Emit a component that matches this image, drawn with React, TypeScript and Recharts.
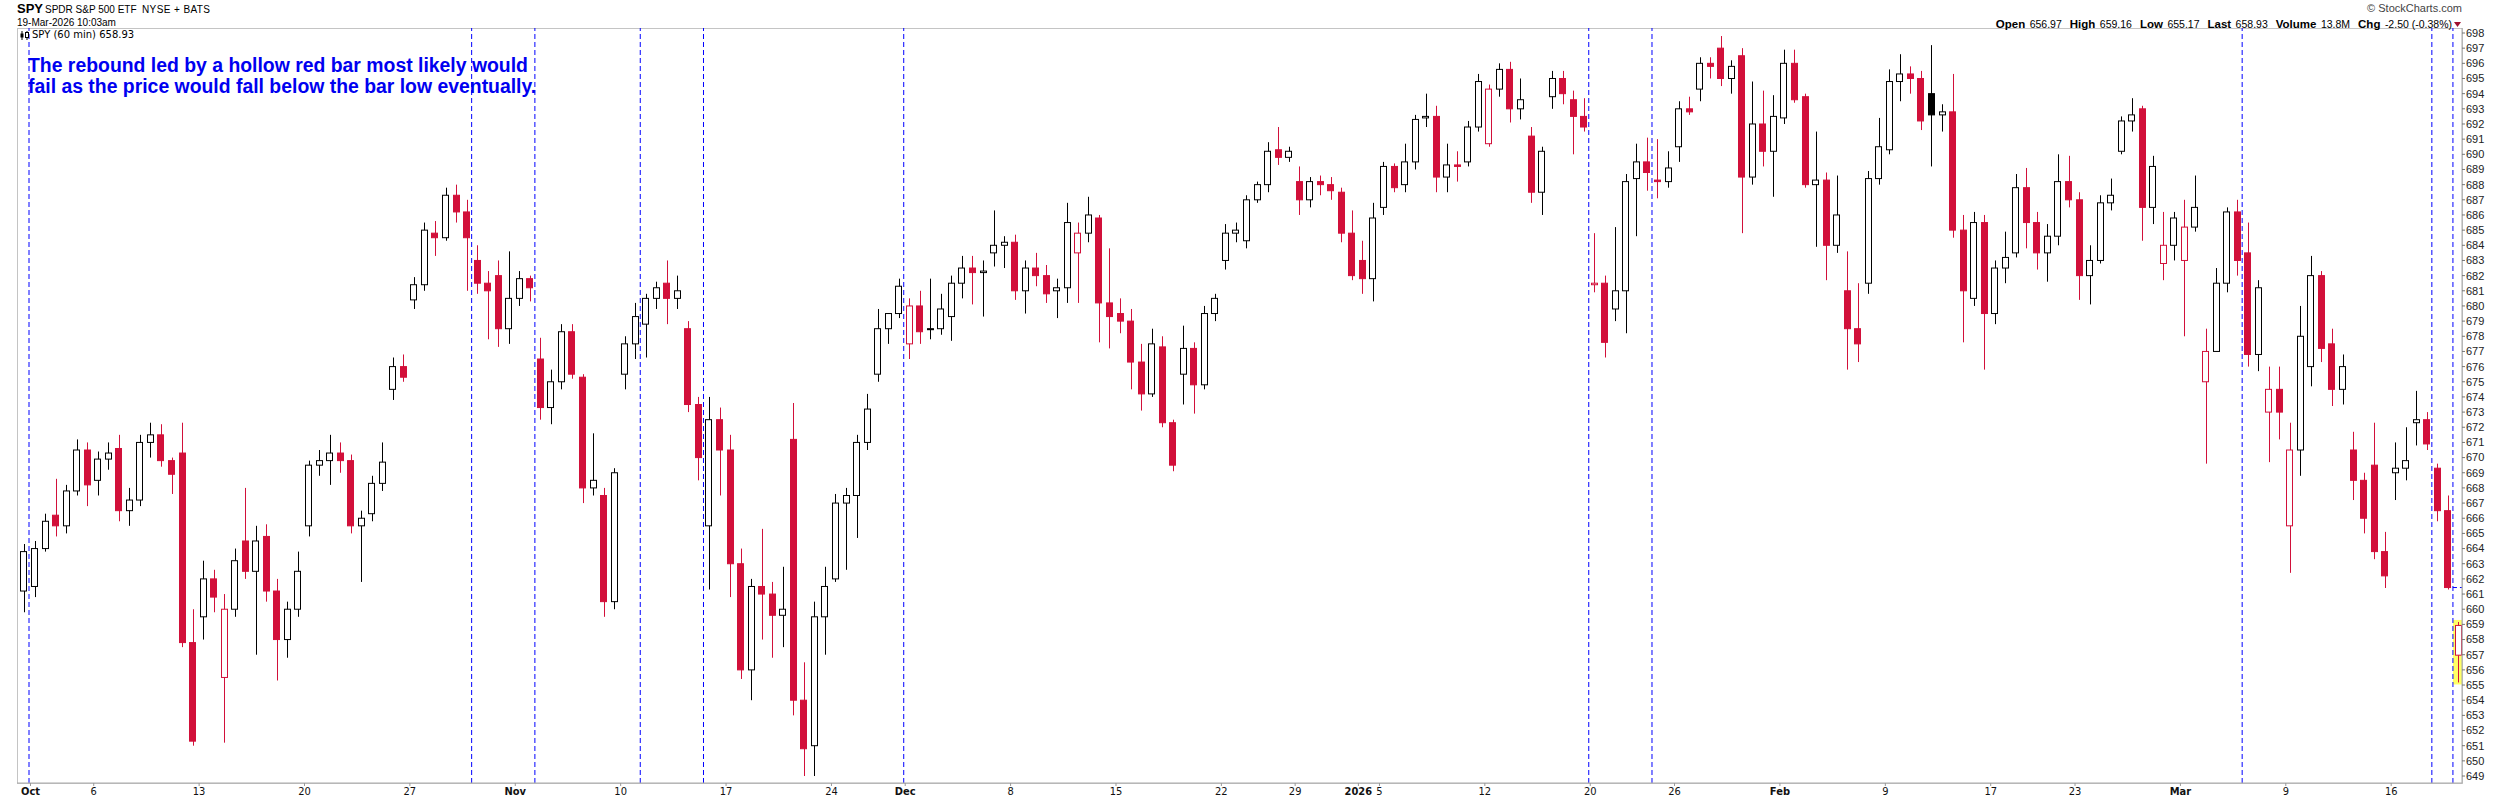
import React from "react";
import { ComposedChart, Bar, XAxis, YAxis, ReferenceLine } from "recharts";

type OHLC = [number, number, number, number];

// trading days per month; a full day is drawn as two half-session candles
const sepDays = [30];
const octDays = [1, 2, 3, 6, 7, 8, 9, 10, 13, 14, 15, 16, 17, 20, 21, 22, 23, 24, 27, 28, 29, 30, 31];
const novDays = [3, 4, 5, 6, 7, 10, 11, 12, 13, 14, 17, 18, 19, 20, 21, 24, 25, 26, 28];
const decDays = [1, 2, 3, 4, 5, 8, 9, 10, 11, 12, 15, 16, 17, 18, 19, 22, 23, 24, 26, 29, 30, 31];
const janDays = [2, 5, 6, 7, 8, 9, 12, 13, 14, 15, 16, 20, 21, 22, 23, 26, 27, 28, 29, 30];
const febDays = [2, 3, 4, 5, 6, 9, 10, 11, 12, 13, 17, 18, 19, 20, 23, 24, 25, 26, 27];
const marDays = [2, 3, 4, 5, 6, 9, 10, 11, 12, 13, 16, 17, 18, 19];

// partial / short sessions get a single candle
const singleBarDays = ["Sep 30", "Nov 28", "Dec 24", "Mar 19"];

// [open, high, low, close]
const sepBars: OHLC[] = [[661.2, 664.3, 659.8, 663.8]];

const octBars: OHLC[] = [
  [661.5, 664.5, 660.8, 664.0], [664.0, 666.3, 663.8, 665.8],
  [666.2, 668.6, 664.8, 665.5], [665.5, 668.2, 665.0, 667.8],
  [667.8, 671.2, 667.5, 670.5], [670.5, 671.0, 666.8, 668.2],
  [668.5, 670.4, 667.5, 669.9], [669.9, 671.0, 669.2, 670.3],
  [670.6, 671.5, 665.8, 666.5], [666.5, 668.0, 665.5, 667.2],
  [667.2, 671.5, 666.8, 671.0], [671.0, 672.3, 670.0, 671.5],
  [671.5, 672.2, 669.4, 669.8], [669.8, 670.0, 667.6, 668.9],
  [670.3, 672.3, 657.5, 657.8], [657.8, 660.0, 651.0, 651.3],
  [659.5, 663.2, 658.0, 662.0], [662.0, 662.6, 659.8, 660.8],
  [655.5, 661.0, 651.2, 660.0], [660.0, 664.0, 659.5, 663.2],
  [664.5, 668.0, 662.0, 662.5], [662.5, 665.5, 657.0, 664.5],
  [664.8, 665.6, 660.5, 661.2], [661.2, 662.0, 655.3, 658.0],
  [658.0, 660.5, 656.8, 660.0], [660.0, 663.8, 659.5, 662.5],
  [665.5, 669.8, 664.8, 669.5], [669.5, 670.5, 668.8, 669.8],
  [669.8, 671.5, 668.2, 670.3], [670.3, 671.0, 669.0, 669.8],
  [669.8, 670.2, 665.0, 665.5], [665.5, 666.5, 661.8, 666.0],
  [666.3, 668.8, 665.8, 668.3], [668.3, 671.0, 667.8, 669.7],
  [674.5, 676.6, 673.8, 676.0], [676.0, 676.8, 675.0, 675.3],
  [680.4, 681.9, 679.8, 681.4], [681.4, 685.5, 681.0, 685.0],
  [684.8, 685.6, 683.3, 684.5], [684.5, 687.8, 684.3, 687.3],
  [687.3, 688.0, 685.5, 686.2], [686.2, 687.0, 681.0, 684.5],
  [683.0, 684.0, 680.8, 681.5], [681.5, 682.3, 677.8, 681.0],
  [682.0, 683.0, 677.3, 678.5], [678.5, 683.6, 677.5, 680.5],
];

const novBars: OHLC[] = [
  [680.5, 682.3, 680.0, 681.8], [681.8, 682.0, 680.3, 681.2],
  [676.5, 677.9, 672.5, 673.3], [673.3, 675.8, 672.2, 675.0],
  [675.0, 678.8, 674.5, 678.3], [678.3, 678.8, 675.2, 675.5],
  [675.3, 675.5, 667.0, 668.0], [668.0, 671.6, 667.5, 668.5],
  [667.5, 668.0, 659.5, 660.5], [660.5, 669.3, 660.0, 669.0],
  [675.5, 678.0, 674.5, 677.5], [677.5, 680.2, 676.5, 679.3],
  [678.8, 680.8, 676.6, 680.5], [680.5, 681.6, 679.8, 681.2],
  [681.5, 683.0, 678.8, 680.5], [680.5, 682.0, 679.8, 681.0],
  [678.5, 679.0, 673.0, 673.5], [673.5, 674.0, 668.5, 670.0],
  [665.5, 674.0, 661.3, 672.5], [672.5, 673.3, 667.5, 670.5],
  [670.5, 671.5, 660.8, 663.0], [663.0, 664.0, 655.4, 656.0],
  [656.0, 662.0, 654.0, 661.5], [661.5, 665.3, 658.0, 661.0],
  [661.0, 661.8, 656.8, 659.6], [659.6, 662.8, 657.5, 660.0],
  [671.2, 673.6, 653.0, 654.0], [654.0, 656.5, 649.0, 650.8],
  [651.0, 660.5, 649.0, 659.5], [659.5, 662.8, 657.0, 661.5],
  [662.0, 667.6, 661.8, 667.0], [667.0, 668.0, 662.6, 667.5],
  [667.5, 671.5, 664.7, 671.0], [671.0, 674.2, 670.5, 673.2],
  [675.5, 679.8, 675.0, 678.5], [678.5, 679.2, 677.5, 679.5],
  [679.5, 681.8, 679.2, 681.3],
];

const decBars: OHLC[] = [
  [677.5, 680.5, 676.5, 680.0], [680.0, 681.0, 677.5, 678.3],
  [678.5, 681.8, 677.8, 678.5], [678.5, 680.8, 678.1, 679.8],
  [679.3, 682.0, 677.7, 681.5], [681.5, 683.3, 680.5, 682.5],
  [682.5, 683.3, 680.1, 682.2], [682.2, 683.0, 679.3, 682.3],
  [683.5, 686.3, 682.6, 684.0], [684.0, 684.6, 682.5, 684.2],
  [684.2, 684.7, 680.4, 681.0], [681.0, 683.0, 679.5, 682.5],
  [682.5, 683.5, 681.3, 682.0], [682.0, 682.7, 680.2, 680.8],
  [681.0, 681.8, 679.2, 681.2], [681.2, 686.8, 680.2, 685.5],
  [683.5, 685.5, 680.2, 684.8], [684.8, 687.2, 684.2, 686.0],
  [685.8, 686.0, 677.6, 680.2], [680.2, 683.8, 677.2, 679.3],
  [679.5, 680.5, 678.2, 679.0], [679.0, 679.8, 674.5, 676.3],
  [676.3, 677.5, 673.1, 674.2], [674.2, 678.5, 674.0, 677.5],
  [677.3, 678.0, 672.0, 672.3], [672.3, 672.5, 669.1, 669.5],
  [675.5, 678.7, 673.5, 677.2], [677.2, 677.6, 672.9, 674.8],
  [674.8, 680.0, 674.5, 679.5], [679.5, 680.8, 679.0, 680.5],
  [683.0, 685.4, 682.4, 684.8], [684.8, 685.5, 684.2, 685.0],
  [684.3, 687.3, 683.8, 687.0], [687.0, 688.2, 686.8, 688.0],
  [688.0, 690.8, 687.5, 690.2],
  [690.3, 691.8, 689.3, 689.8], [689.8, 690.5, 689.5, 690.2],
  [688.2, 689.2, 686.0, 687.0], [687.0, 688.5, 686.5, 688.2],
  [688.2, 688.6, 687.3, 688.0], [688.0, 688.5, 687.0, 687.6],
  [687.5, 687.8, 684.2, 684.8], [684.8, 686.3, 681.7, 682.0],
];

const janBars: OHLC[] = [
  [683.0, 684.3, 680.8, 681.8], [681.8, 686.8, 680.3, 685.8],
  [686.5, 689.5, 686.0, 689.2], [689.2, 689.4, 687.5, 687.8],
  [688.0, 690.7, 687.5, 689.5], [689.5, 692.6, 689.0, 692.3],
  [692.4, 694.0, 691.8, 692.5], [692.5, 693.2, 687.5, 688.5],
  [688.5, 690.7, 687.5, 689.3], [689.3, 690.2, 688.2, 689.2],
  [689.5, 692.2, 689.2, 691.8], [691.8, 695.3, 691.5, 694.8],
  [690.7, 694.6, 690.5, 694.3], [694.3, 696.0, 693.8, 695.6],
  [695.6, 696.1, 692.1, 693.0], [693.0, 695.0, 692.3, 693.6],
  [691.2, 691.8, 686.8, 687.5], [687.5, 690.5, 686.0, 690.2],
  [693.8, 695.5, 693.0, 695.0], [695.0, 695.5, 693.3, 694.0],
  [693.6, 694.2, 690.0, 692.5], [692.5, 693.7, 691.5, 691.8],
  [681.4, 684.8, 680.9, 681.5], [681.5, 682.0, 676.6, 677.6],
  [679.8, 685.2, 679.0, 681.0], [681.0, 688.7, 678.2, 688.2],
  [688.4, 690.7, 684.6, 689.5], [689.5, 691.1, 687.6, 688.8],
  [688.3, 691.0, 687.1, 688.2], [688.2, 690.2, 687.8, 689.1],
  [690.5, 693.5, 689.5, 693.0], [693.0, 693.8, 692.6, 692.8],
  [694.3, 696.4, 693.5, 696.0], [696.0, 696.4, 695.0, 695.8],
  [697.0, 697.8, 694.5, 695.0], [695.0, 696.2, 694.0, 695.8],
  [696.5, 697.0, 684.8, 688.5], [688.5, 694.8, 688.0, 692.0],
  [692.0, 694.2, 689.2, 690.2], [690.2, 693.9, 687.2, 692.5],
];

const febBars: OHLC[] = [
  [692.4, 696.9, 692.0, 696.0], [696.0, 696.9, 693.4, 693.6],
  [693.8, 694.0, 687.8, 688.0], [688.0, 691.5, 683.9, 688.3],
  [688.3, 688.8, 681.7, 684.0], [684.0, 688.6, 683.5, 686.0],
  [681.0, 683.6, 675.8, 678.5], [678.5, 681.5, 676.3, 677.5],
  [681.5, 688.9, 680.8, 688.4], [688.4, 692.4, 688.0, 690.5],
  [690.3, 695.6, 690.0, 694.8], [694.8, 696.6, 693.5, 695.3],
  [695.3, 695.8, 694.0, 695.0], [695.0, 695.5, 691.6, 692.2],
  [694.0, 697.2, 689.2, 692.6], [692.6, 693.3, 691.5, 692.8],
  [692.8, 695.3, 684.5, 685.0], [685.0, 686.0, 677.6, 681.0],
  [680.5, 686.2, 680.0, 685.5], [685.5, 686.0, 675.8, 679.5],
  [679.5, 683.0, 678.8, 682.5], [682.5, 684.9, 681.5, 683.2],
  [683.5, 688.7, 683.2, 687.8], [687.8, 689.1, 683.8, 685.5],
  [685.5, 686.2, 682.4, 683.5], [683.5, 685.4, 681.6, 684.6],
  [684.6, 690.0, 684.0, 688.2], [688.2, 689.9, 686.5, 687.0],
  [687.0, 687.5, 680.4, 682.0], [682.0, 684.0, 680.1, 683.0],
  [683.0, 687.3, 682.8, 686.8], [686.8, 688.4, 686.3, 687.3],
  [690.2, 692.5, 690.0, 692.2], [692.2, 693.7, 691.5, 692.6],
  [693.0, 693.2, 684.3, 686.5], [686.5, 689.9, 685.4, 689.2],
  [682.8, 686.2, 681.7, 684.0], [684.0, 686.2, 683.0, 685.8],
];

const marBars: OHLC[] = [
  [683.0, 687.0, 678.0, 685.2], [685.2, 688.6, 684.9, 686.5],
  [675.0, 678.5, 669.6, 677.0], [677.0, 682.5, 677.0, 681.5],
  [681.5, 686.5, 680.9, 686.2], [686.2, 687.0, 682.0, 683.0],
  [683.5, 685.5, 676.0, 676.8], [676.8, 681.7, 675.7, 681.2],
  [673.0, 676.0, 669.7, 674.5], [674.5, 676.0, 671.2, 673.0],
  [665.5, 672.3, 662.4, 670.5], [670.5, 680.0, 668.8, 678.0],
  [676.0, 683.3, 674.7, 682.0], [682.0, 682.3, 676.3, 677.2],
  [677.5, 678.5, 673.4, 674.5], [674.5, 676.8, 673.5, 676.0],
  [670.5, 671.7, 667.2, 668.5], [668.5, 669.0, 665.0, 666.0],
  [669.5, 672.3, 663.3, 663.8], [663.8, 665.1, 661.4, 662.2],
  [669.0, 671.0, 667.2, 669.3], [669.3, 672.0, 668.5, 669.8],
  [672.3, 674.4, 670.8, 672.5], [672.5, 673.0, 670.5, 670.9],
  [669.3, 669.6, 665.8, 666.5], [666.5, 667.5, 661.3, 661.43],
  [656.97, 659.16, 655.17, 658.93],
];

// x-axis labels: [day, label]
const dayTicks: [string, string][] = [
  ["Oct 1", "Oct"], ["Oct 6", "6"], ["Oct 13", "13"], ["Oct 20", "20"], ["Oct 27", "27"],
  ["Nov 3", "Nov"], ["Nov 10", "10"], ["Nov 17", "17"], ["Nov 24", "24"],
  ["Dec 1", "Dec"], ["Dec 8", "8"], ["Dec 15", "15"], ["Dec 22", "22"], ["Dec 29", "29"],
  ["Jan 2", "2026"], ["Jan 5", "5"], ["Jan 12", "12"], ["Jan 20", "20"], ["Jan 26", "26"],
  ["Feb 2", "Feb"], ["Feb 9", "9"], ["Feb 17", "17"], ["Feb 23", "23"],
  ["Mar 2", "Mar"], ["Mar 9", "9"], ["Mar 16", "16"],
];
const boldLabels = ["Oct", "Nov", "Dec", "2026", "Feb", "Mar"];

// days marked with vertical blue dashed lines
const markerDays = ["Oct 1", "Oct 30", "Nov 4", "Nov 11", "Nov 14", "Dec 1", "Jan 20", "Jan 23", "Mar 5", "Mar 18", "Mar 19"];

const yTicks = [
  649, 650, 651, 652, 653, 654, 655, 656, 657, 658, 659, 660, 661, 662, 663, 664, 665,
  666, 667, 668, 669, 670, 671, 672, 673, 674, 675, 676, 677, 678, 679, 680, 681, 682,
  683, 684, 685, 686, 687, 688, 689, 690, 691, 692, 693, 694, 695, 696, 697, 698,
];

const RED = "#d2103a";

const months: [string, number[], OHLC[]][] = [
  ["Sep", sepDays, sepBars],
  ["Oct", octDays, octBars],
  ["Nov", novDays, novBars],
  ["Dec", decDays, decBars],
  ["Jan", janDays, janBars],
  ["Feb", febDays, febBars],
  ["Mar", marDays, marBars],
];

type Candle = { i: number; date: string; o: number; h: number; l: number; c: number; prev: number; range: [number, number] };

const data: Candle[] = [];
const firstSlot: Record<string, number> = {};
months.forEach(([name, days, bars]) => {
  let k = 0;
  days.forEach((d) => {
    const date = `${name} ${d}`;
    firstSlot[date] = data.length;
    const n = singleBarDays.includes(date) ? 1 : 2;
    for (let j = 0; j < n; j++) {
      const [o, h, l, c] = bars[k++];
      const prev = data.length ? data[data.length - 1].c : o;
      data.push({ i: data.length, date, o, h, l, c, prev, range: [l, h] });
    }
  });
});

const lastBar = data[data.length - 1];
const tickPos = dayTicks.map(([d]) => firstSlot[d] - 0.36);

const CandleShape = (props: any) => {
  const { x, y, width, height, payload } = props;
  if (!payload) return null;
  const { o, h, l, c, prev, i } = payload;
  const top = Math.min(y, y + height);
  const pix = Math.abs(height);
  const span = h - l || 1;
  const py = (v: number) => top + ((h - v) / span) * pix;
  const color = c >= prev ? "#000" : RED;
  const hollow = c > o;
  const cx = Math.round(x + width / 2) + 0.5;
  const yo = py(Math.max(o, c));
  const bh = Math.max(1, py(Math.min(o, c)) - yo);
  return (
    <g>
      {i === lastBar.i && (
        <rect x={x - 2} y={top - 2} width={width + 4} height={pix + 4} fill="#ffff66" />
      )}
      <line x1={cx} x2={cx} y1={top} y2={top + pix} stroke={color} strokeWidth={1} />
      <rect
        x={Math.round(x) + 0.5}
        y={yo}
        width={width - 1}
        height={bh}
        fill={hollow ? "#fff" : color}
        stroke={color}
        strokeWidth={1}
      />
    </g>
  );
};

const XTick = (props: any) => {
  const { x, y, payload } = props;
  let idx = 0;
  tickPos.forEach((p, n) => {
    if (Math.abs(p - payload.value) < Math.abs(tickPos[idx] - payload.value)) idx = n;
  });
  const label = dayTicks[idx][1];
  return (
    <text
      x={x}
      y={y + 9}
      textAnchor="middle"
      fontSize={11}
      fontWeight={boldLabels.includes(label) ? 700 : 400}
      fontFamily="'Liberation Sans Narrow', 'DejaVu Sans Condensed', 'Liberation Sans', sans-serif"
      fill="#111"
    >
      {label}
    </text>
  );
};

const Stat = ({ k, v }: { k: string; v: string }) => (
  <span style={{ marginLeft: 8 }}>
    <b style={{ fontSize: 11.5 }}>{k}</b> <span style={{ fontSize: 10.5 }}>{v}</span>
  </span>
);

export default function App() {
  return (
    <div
      style={{
        position: "relative",
        width: 2500,
        height: 800,
        background: "#fff",
        fontFamily: "'Liberation Sans', Arial, sans-serif",
        color: "#000",
        overflow: "hidden",
      }}
    >
      <style>{"body{margin:0}"}</style>
      <div
        style={{
          position: "absolute",
          left: 17,
          top: 28,
          width: 2446,
          height: 756,
          border: "1px solid #c4c4c4",
          boxSizing: "border-box",
        }}
      />
      <div style={{ position: "absolute", left: 0, top: 0 }}>
        <ComposedChart width={2500} height={800} data={data} margin={{ top: 28, right: 0, bottom: 0, left: 17 }}>
          <XAxis
            dataKey="i"
            type="number"
            domain={[-0.64, 231.36]}
            allowDataOverflow
            ticks={tickPos}
            interval={0}
            height={17}
            tickSize={3}
            tickMargin={0}
            tick={<XTick />}
            axisLine={{ stroke: "#aaa" }}
            tickLine={{ stroke: "#999" }}
          />
          <YAxis
            orientation="right"
            type="number"
            domain={[648.54, 698.33]}
            allowDataOverflow
            ticks={yTicks}
            interval={0}
            width={38}
            tickSize={3}
            tickMargin={1}
            axisLine={{ stroke: "#aaa" }}
            tickLine={{ stroke: "#777" }}
            tick={{ fill: "#222", fontSize: 11, fontFamily: "'Liberation Sans', Arial, sans-serif", textAnchor: "start" }}
          />
          {markerDays.map((d) => (
            <ReferenceLine
              key={d}
              x={firstSlot[d] - 0.5}
              stroke="#0000ff"
              strokeDasharray="5 3"
              strokeWidth={1}
              ifOverflow="extendDomain"
            />
          ))}
          <ReferenceLine
            segment={[
              { x: lastBar.i - 0.5, y: lastBar.prev },
              { x: 231.36, y: lastBar.prev },
            ]}
            stroke="#0000ff"
            strokeDasharray="4 3"
          />
          <Bar dataKey="range" barSize={7} isAnimationActive={false} shape={(p: any) => <CandleShape {...p} />} />
        </ComposedChart>
      </div>

      {/* header */}
      <div style={{ position: "absolute", left: 17, top: 2, fontSize: 13, lineHeight: "13px", fontWeight: 700 }}>SPY</div>
      <div style={{ position: "absolute", left: 45, top: 4.5, fontSize: 10, lineHeight: "10px" }}>SPDR S&amp;P 500 ETF</div>
      <div style={{ position: "absolute", left: 142, top: 4.5, fontSize: 10, lineHeight: "10px", letterSpacing: 0.4 }}>
        NYSE + BATS
      </div>
      <div style={{ position: "absolute", left: 17, top: 17.5, fontSize: 10, lineHeight: "10px" }}>19-Mar-2026 10:03am</div>
      <svg style={{ position: "absolute", left: 20, top: 31 }} width={10} height={9}>
        <line x1={2} x2={2} y1={0} y2={9} stroke="#000" />
        <rect x={0.5} y={2.5} width={3} height={4} fill="#000" />
        <line x1={7} x2={7} y1={0} y2={9} stroke="#000" />
        <rect x={5.5} y={1.5} width={3} height={5} fill="#fff" stroke="#000" />
      </svg>
      <div
        style={{
          position: "absolute",
          left: 32,
          top: 29.5,
          fontSize: 10,
          lineHeight: "10px",
          fontFamily: "'DejaVu Sans', sans-serif",
        }}
      >
        SPY (60 min) 658.93
      </div>
      <div
        style={{
          position: "absolute",
          left: 28,
          top: 55,
          fontSize: 19.4,
          lineHeight: "21px",
          fontWeight: 700,
          color: "#0000f0",
        }}
      >
        The rebound led by a hollow red bar most likely would
        <br />
        fail as the price would fall below the bar low eventually.
      </div>

      <div style={{ position: "absolute", right: 38, top: 2.5, fontSize: 11, lineHeight: "11px", color: "#444" }}>
        © StockCharts.com
      </div>
      <div
        style={{
          position: "absolute",
          right: 48,
          top: 17,
          lineHeight: "12px",
          whiteSpace: "nowrap",
          display: "flex",
          alignItems: "baseline",
        }}
      >
        <Stat k="Open" v="656.97" />
        <Stat k="High" v="659.16" />
        <Stat k="Low" v="655.17" />
        <Stat k="Last" v="658.93" />
        <Stat k="Volume" v="13.8M" />
        <Stat k="Chg" v="-2.50 (-0.38%)" />
      </div>
      <svg style={{ position: "absolute", left: 2454, top: 22 }} width={8} height={6}>
        <polygon points="0,0 7,0 3.5,5" fill="#a0102e" />
      </svg>
    </div>
  );
}
